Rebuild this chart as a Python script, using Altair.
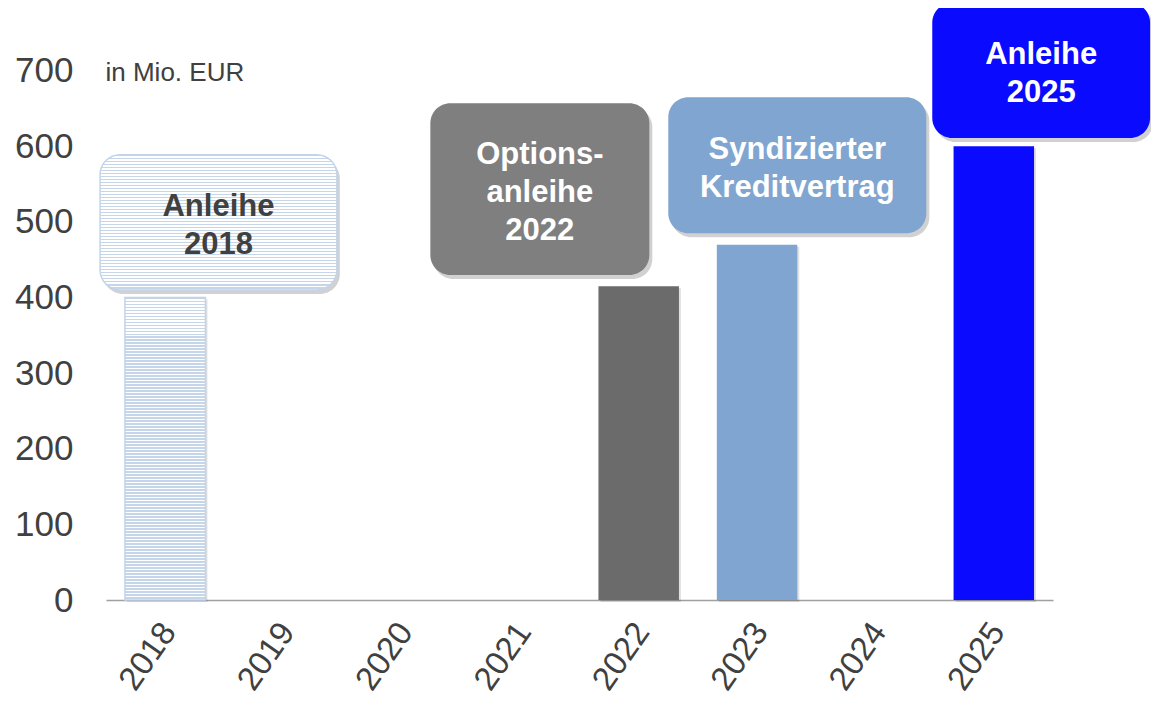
import altair as alt
import pandas as pd

# ---- data ----
years = ["2018", "2019", "2020", "2021", "2022", "2023", "2024", "2025"]
values = [400, 0, 0, 0, 415, 470, 0, 600]

box_years = ["2018", "2022", "2023", "2025"]
box_text = ["Anleihe\n2018", "Options-\nanleihe\n2022", "Syndizierter\nKreditvertrag", "Anleihe\n2025"]
# callout extents: x in category units (0..8), y in Mio. EUR
box_left = [-0.05, 2.74, 4.75, 6.98]
box_right = [1.95, 4.59, 6.93, 8.82]
box_bottom = [410, 430, 485, 611]
box_top = [589, 657, 665, 790]

y_ticks = [0, 100, 200, 300, 400, 500, 600, 700]

bar_colors = ["#ffffff", "#ffffff", "#ffffff", "#ffffff", "#6b6b6b", "#7fa5d0", "#ffffff", "#0a0aff"]
box_fill = ["#ffffff", "#7f7f7f", "#7fa5d0", "#0a0aff"]
text_colors = ["#404040", "#ffffff", "#ffffff", "#ffffff"]

FONT = "Liberation Sans"
W, H = 947, 592
Y_MAX = 783
LINE_H = 38
PX_PER_UNIT = H / Y_MAX

bars_df = pd.DataFrame({"year": years, "value": values})
boxes_df = pd.DataFrame({
    "key": box_years, "label": box_text,
    "left": box_left, "right": box_right,
    "bottom": box_bottom, "top": box_top,
})


def stripes(n, c1, c2):
    stops = []
    for k in range(n):
        a, b, c = k / n, (k + 0.5) / n, (k + 1) / n
        stops += [
            alt.GradientStop(offset=a, color=c1),
            alt.GradientStop(offset=b, color=c1),
            alt.GradientStop(offset=b, color=c2),
            alt.GradientStop(offset=c, color=c2),
        ]
    return alt.LinearGradient(gradient="linear", stops=stops, x1=0, x2=0, y1=0, y2=1)


yscale = alt.Scale(domain=[0, Y_MAX], nice=False, zero=True)
xband = alt.Scale(domain=years, paddingInner=0.32, paddingOuter=0.16)

x_axis = alt.Axis(title=None, labelAngle=-55, labelAlign="right", labelBaseline="middle",
                  labelFontSize=33, labelColor="#404040", labelFont=FONT,
                  labelPadding=26, labelOffset=4, ticks=False,
                  domainColor="#a0a0a0", domainWidth=1.5, grid=False)
y_axis = alt.Axis(values=y_ticks, title="in Mio. EUR", titleAngle=0, titleAlign="left",
                  titleBaseline="middle", titleX=-1, titleY=64, titleFontSize=26,
                  titleFontWeight="normal", titleColor="#404040", titleFont=FONT,
                  labelFontSize=35, labelColor="#404040", labelFont=FONT,
                  labelPadding=33, ticks=False, domain=False, grid=False)

x_enc = alt.X("year:N", scale=xband, sort=years, axis=x_axis)
y_enc = alt.Y("value:Q", scale=yscale, axis=y_axis)

base_bars = alt.Chart(bars_df)

bar_shadow = base_bars.transform_filter("datum.value > 0").mark_bar(
    color="#000000", opacity=0.12, xOffset=2, yOffset=2
).encode(x=x_enc, y=y_enc)

bars = base_bars.transform_filter("datum.value > 0 && datum.year != '2018'").mark_bar().encode(
    x=x_enc, y=y_enc,
    color=alt.Color("year:N", scale=alt.Scale(domain=years, range=bar_colors), legend=None),
)

bar2018 = base_bars.transform_filter("datum.year == '2018'").mark_bar(
    color=stripes(101, "#c5d6eb", "#ffffff"), stroke="#c3d4ea", strokeWidth=1.5
).encode(x=x_enc, y=y_enc)

bar_layer = alt.layer(bar_shadow, bars, bar2018)

qx = alt.Scale(domain=[0, 8], nice=False, zero=False)
base_boxes = alt.Chart(boxes_df)
bx = alt.X("left:Q", scale=qx, axis=None)
bx2 = alt.X2("right:Q")
by = alt.Y("bottom:Q", scale=yscale, axis=y_axis)
by2 = alt.Y2("top:Q")

box_shadow = base_boxes.mark_rect(
    color="#000000", opacity=0.18, cornerRadius=20, xOffset=3, yOffset=4, x2Offset=3, y2Offset=4
).encode(x=bx, x2=bx2, y=by, y2=by2)

boxes = base_boxes.transform_filter("datum.key != '2018'").mark_rect(cornerRadius=20).encode(
    x=bx, x2=bx2, y=by, y2=by2,
    color=alt.Color("key:N", scale=alt.Scale(domain=box_years, range=box_fill), legend=None),
)

box2018 = base_boxes.transform_filter("datum.key == '2018'").mark_rect(
    cornerRadius=20, color=stripes(45, "#c5d6eb", "#ffffff"), stroke="#c3d4ea", strokeWidth=1.5
).encode(x=bx, x2=bx2, y=by, y2=by2)

texts = base_boxes.transform_calculate(
    cx="(datum.left + datum.right) / 2",
    cy=f"(datum.bottom + datum.top) / 2 + (split(datum.label, '\\n').length - 1) * {LINE_H / 2 / PX_PER_UNIT}",
).mark_text(
    font=FONT, fontSize=31, fontWeight="bold", lineBreak="\n", lineHeight=LINE_H,
    align="center", baseline="middle", dy=4
).encode(
    x=alt.X("cx:Q", scale=qx, axis=None),
    y=alt.Y("cy:Q", scale=yscale, axis=y_axis),
    text="label:N",
    color=alt.Color("key:N", scale=alt.Scale(domain=box_years, range=text_colors), legend=None),
)

box_layer = alt.layer(box_shadow, boxes, box2018, texts).resolve_scale(color="independent")

chart = alt.layer(bar_layer, box_layer).resolve_scale(
    x="independent", color="independent"
).properties(
    width=W, height=H,
    autosize=alt.AutoSizeParams(type="none"),
    padding={"left": 98, "top": 0, "right": 98, "bottom": 100},
    background="#ffffff",
).configure_view(strokeWidth=0, stroke="transparent")

chart.save("out.html", embed_options={"renderer": "svg", "actions": False})
